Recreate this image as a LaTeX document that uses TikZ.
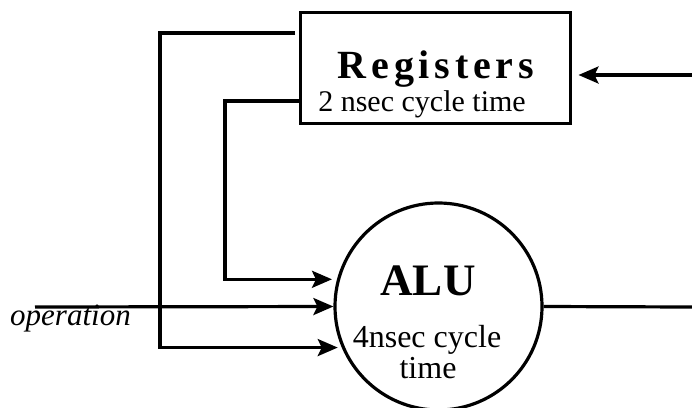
\documentclass[tikz,border=0pt]{standalone}
\usepackage{fontspec}
\setmainfont{Liberation Serif}
\usetikzlibrary{arrows.meta,calc}
\tikzset{
  wire/.style={line width=3.2pt},
  arr/.style={wire,-{Stealth[length=20pt,width=17pt,inset=4pt]}},
  regbox/.style={draw,line width=3pt,minimum width=270pt,minimum height=111pt,inner sep=0pt},
  alucirc/.style={draw,circle,line width=3.2pt,minimum size=207pt,inner sep=0pt},
  lbl/.style={anchor=base,inner sep=0pt}
}
\begin{document}
\begin{tikzpicture}[x=1pt,y=-1pt]
\useasboundingbox (0,0) rectangle (692,407);
\node[regbox] (reg) at (435,67.5) {};
\node[alucirc] (alu) at (438.5,306.5) {};
\node[lbl] (regt) at (436,78) {\fontsize{40}{44}\selectfont\addfontfeature{LetterSpace=12}\bfseries Registers};
\node[lbl] (regc) at (422,111) {\fontsize{30}{34}\selectfont 2 nsec cycle time};
\node[lbl] (alut) at (428,295) {\fontsize{45}{50}\selectfont\bfseries ALU};
\node[lbl] (aluc1) at (427,347) {\fontsize{32}{36}\selectfont 4nsec cycle};
\node[lbl] (aluc2) at (428,378) {\fontsize{32}{36}\selectfont time};
\node[lbl,anchor=base west] (op) at (10,325) {\fontsize{31}{34}\selectfont\itshape operation};
\coordinate (c1) at (295,33);
\coordinate (k1) at (160,200);
\coordinate (c2) at (300,101);
\coordinate (k2) at (225,200);
\coordinate (opin) at (35,307);
\coordinate (out) at (692,307);
\coordinate (in) at (692,75);
\draw[arr,shorten >=4pt] (c1) -| (k1) |- (alu.203);
\draw[arr,shorten >=5pt] (c2) -| (k2) |- (alu.165);
\draw[arr] (opin) -- (alu.west);
\draw[wire] (alu.east) -- (out);
\draw[arr,shorten >=7pt] (in) -- (reg.east |- in);
\end{tikzpicture}
\end{document}
